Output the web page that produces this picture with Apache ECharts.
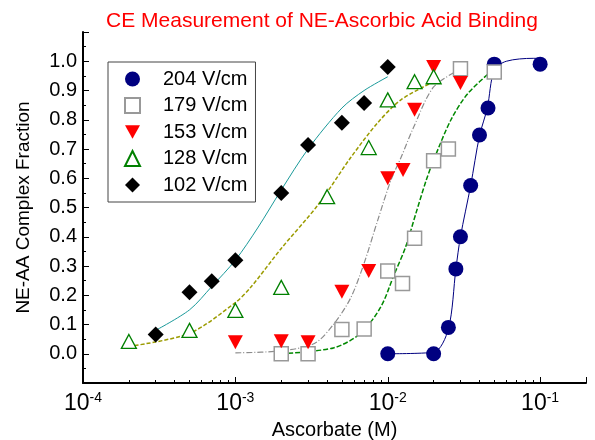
<!DOCTYPE html>
<html>
<head>
<meta charset="utf-8">
<script src="https://cdn.jsdelivr.net/npm/echarts@6/dist/echarts.min.js"></script>
<style>
html, body { margin: 0; padding: 0; background: #fff; }
#main { width: 595px; height: 440px; }
</style>
</head>
<body>
<div id="main"></div>
<script>
// measured points: [ascorbate (M), complex fraction]
const pts204 = [[0.01,0],[0.02,0],[0.025,0.09],[0.028,0.29],[0.03,0.40],[0.035,0.575],[0.04,0.748],[0.0455,0.84],[0.05,0.99],[0.1,0.99]];
const pts179 = [[0.002,0],[0.003,0],[0.005,0.083],[0.007,0.085],[0.01,0.283],[0.0125,0.24],[0.015,0.395],[0.02,0.66],[0.025,0.70],[0.03,0.974],[0.05,0.963]];
const pts153 = [[0.001,0.039],[0.002,0.043],[0.003,0.039],[0.005,0.212],[0.0075,0.283],[0.01,0.60],[0.0126,0.628],[0.015,0.834],[0.02,0.98],[0.03,0.926]];
const pts128 = [[0.0002,0.042],[0.0005,0.08],[0.001,0.148],[0.002,0.227],[0.004,0.537],[0.0075,0.705],[0.01,0.868],[0.015,0.93],[0.02,0.947]];
const pts102 = [[0.0003,0.066],[0.0005,0.21],[0.0007,0.248],[0.001,0.32],[0.002,0.55],[0.003,0.714],[0.005,0.79],[0.007,0.857],[0.01,0.98]];

// fitted curves
const fit204 = [[0.01,0],[0.02,0.005],[0.025,0.085],[0.028,0.29],[0.03,0.40],[0.035,0.575],[0.04,0.745],[0.045,0.84],[0.05,0.97],[0.06,1.0],[0.09,1.01],[0.1,1.01]];
const fit179 = [[0.001,0.003],[0.002,0.01],[0.0033,0.035],[0.0044,0.10],[0.0057,0.19],[0.007,0.31],[0.0086,0.457],[0.0105,0.594],[0.0122,0.67],[0.0148,0.775],[0.02,0.912],[0.0293,0.97]];
const fit153 = [[0.002,0],[0.0044,0.02],[0.0066,0.069],[0.009,0.16],[0.011,0.27],[0.0131,0.365],[0.0153,0.48],[0.0178,0.59],[0.02,0.662],[0.026,0.80],[0.0336,0.89],[0.0512,0.98]];
const fit128 = [[0.0002,0.025],[0.0005,0.07],[0.001,0.175],[0.00126,0.227],[0.002,0.36],[0.0035,0.51],[0.0057,0.67],[0.0086,0.79],[0.0122,0.868],[0.02,0.93]];
const fit102 = [[0.0003,0.08],[0.0005,0.15],[0.0007,0.23],[0.001,0.32],[0.0014,0.43],[0.002,0.56],[0.003,0.70],[0.005,0.84],[0.007,0.90],[0.01,0.947]];

const legendNames = ['204 V/cm', '179 V/cm', '153 V/cm', '128 V/cm', '102 V/cm'];
const majorTicks = [0.0001, 0.001, 0.01, 0.1];
const mantissas = [2, 3, 4, 5, 6, 7, 8, 9];

const minorTicks = [];
majorTicks.forEach(function (d) {
    mantissas.forEach(function (m) {
        const v = +(d * m).toPrecision(3);
        if (v <= 0.2) minorTicks.push(v);
    });
});

const FONT = 'Liberation Sans, Arial, sans-serif';

function fitLine(data, color, type, width) {
    return {
        type: 'line',
        data: data,
        symbol: 'none',
        smooth: 0.3,
        silent: true,
        lineStyle: { color: color, width: width, type: type },
        z: 1
    };
}

function dots(name, data, symbol, size, style, rotate) {
    style.opacity = 1;
    return {
        name: name,
        type: 'scatter',
        data: data,
        symbol: symbol,
        symbolSize: size,
        symbolRotate: rotate || 0,
        itemStyle: style,
        z: 3
    };
}

const legendData = legendNames.map(function (n) {
    if (n === '153 V/cm') return { name: n, icon: 'path://M0,0L10,0L5,9Z' };
    return { name: n };
});

const chart = echarts.init(document.getElementById('main'));
chart.setOption({
    animation: false,
    backgroundColor: '#fff',
    textStyle: { fontFamily: FONT },
    title: {
        text: 'CE Measurement of NE-Ascorbic Acid Binding',
        left: 317,
        textAlign: 'center',
        top: 6,
        textStyle: { color: '#ff0000', fontSize: 21, fontWeight: 'normal', fontFamily: FONT }
    },
    legend: {
        data: legendData,
        orient: 'vertical',
        left: 108,
        top: 62,
        padding: [7, 8, 7, 16],
        itemWidth: 15,
        itemHeight: 15,
        itemGap: 6.5,
        borderColor: '#444',
        borderWidth: 1,
        backgroundColor: '#fff',
        selectedMode: false,
        textStyle: { fontSize: 20, lineHeight: 20, color: '#000', fontFamily: FONT, padding: [0, 0, 0, 18] }
    },
    grid: { left: 83, right: 9, top: 32, bottom: 57, containLabel: false, outerBoundsMode: 'none' },
    xAxis: [{
        type: 'log',
        logBase: 10,
        min: 0.0001,
        max: 0.2,
        name: 'Ascorbate (M)',
        nameLocation: 'middle',
        nameGap: 34,
        nameTextStyle: { fontSize: 20, color: '#000', fontFamily: FONT },
        splitLine: { show: false },
        axisLine: { onZero: false, lineStyle: { color: '#000', width: 2 } },
        axisTick: { inside: true, length: 6, customValues: majorTicks.concat([0.2]), lineStyle: { color: '#000', width: 1 } },
        axisLabel: {
            margin: 8,
            color: '#000',
            customValues: majorTicks,
            formatter: function (v) {
                const e = Math.round(Math.log10(v));
                return '{b|10}{s|' + e + '}';
            },
            rich: {
                b: { fontSize: 23, fontFamily: FONT, color: '#000' },
                s: { fontSize: 14, fontFamily: FONT, color: '#000', padding: [0, 0, 12, 0] }
            }
        }
    }, {
        type: 'log',
        logBase: 10,
        min: 0.0001,
        max: 0.2,
        position: 'bottom',
        splitLine: { show: false },
        axisLine: { show: false, onZero: false },
        axisLabel: { show: false },
        axisTick: { inside: true, length: 3, customValues: minorTicks, lineStyle: { color: '#000', width: 1 } }
    }],
    yAxis: {
        type: 'value',
        min: -0.1,
        max: 1.1,
        interval: 0.1,
        name: 'NE-AA Complex Fraction',
        nameLocation: 'middle',
        nameGap: 50,
        nameTextStyle: { fontSize: 19, color: '#000', fontFamily: FONT },
        splitLine: { show: false },
        axisLine: { onZero: false, lineStyle: { color: '#000', width: 2 } },
        axisTick: { inside: true, length: 6, lineStyle: { color: '#000' } },
        minorTick: { show: true, splitNumber: 2, length: 3, lineStyle: { color: '#000' } },
        axisLabel: {
            margin: 6,
            fontSize: 20,
            color: '#000',
            fontFamily: FONT,
            formatter: function (v) {
                if (v < -0.01 || v > 1.01) return '';
                return v.toFixed(1);
            }
        }
    },
    series: [
        fitLine(fit204, '#000080', 'solid', 1),
        fitLine(fit179, '#8c8c8c', [6, 2, 1, 2], 1.2),
        fitLine(fit153, '#008800', [5, 2], 1.5),
        fitLine(fit128, '#9b9b00', [4, 2], 1.5),
        fitLine(fit102, '#1a9a9a', 'solid', 1),
        dots('204 V/cm', pts204, 'circle', 15, { color: '#000080' }),
        dots('179 V/cm', pts179, 'rect', 14, { color: '#fff', borderColor: '#999', borderWidth: 1.5 }),
        dots('153 V/cm', pts153, 'triangle', [15, 14], { color: '#ff0000' }, 180),
        dots('128 V/cm', pts128, 'triangle', [15, 14], { color: '#fff', borderColor: '#008000', borderWidth: 1.3 }),
        dots('102 V/cm', pts102, 'diamond', 16, { color: '#000' })
    ]
});
</script>
</body>
</html>
